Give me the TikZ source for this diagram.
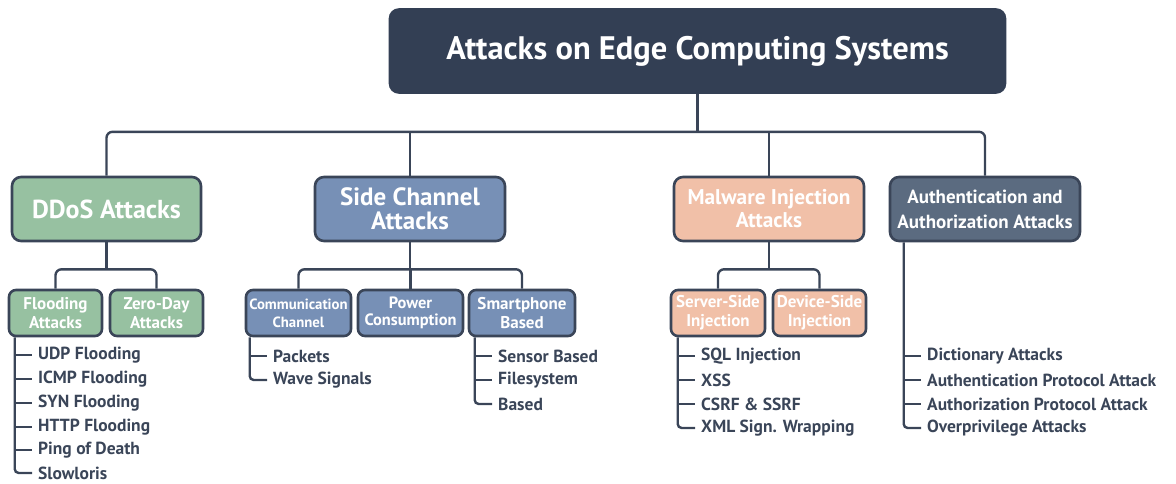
\documentclass[tikz,border=0pt]{standalone}
\usepackage{fontspec}
\setmainfont{PT Sans}
\definecolor{navy}{HTML}{333F54}
\definecolor{linec}{HTML}{3A4558}
\definecolor{greenb}{HTML}{97C1A1}
\definecolor{blueb}{HTML}{7790B6}
\definecolor{peachb}{HTML}{F1C0A8}
\definecolor{slateb}{HTML}{5B6B80}
\newcommand{\fs}[2]{\fontsize{#1}{#2}\selectfont\bfseries}
\tikzset{
  box/.style={draw=linec, line width=2.6pt, rounded corners=9pt, text=white, align=center, inner sep=0pt},
  conn/.style={draw=linec, line width=2.4pt, rounded corners=6pt},
  item/.style={anchor=west, inner xsep=6pt, inner ysep=0pt, text=linec, font=\fs{17.5}{19}},
  sub/.style={box, minimum height=46pt, rounded corners=7pt}
}
\begin{document}
\begin{tikzpicture}[x=1pt,y=-1pt]
\useasboundingbox (0,0) rectangle (1176,483);
\node[box, fill=navy, draw=navy, minimum width=615pt, minimum height=83pt, font=\fs{32.5}{34}] (root) at (697.5,51) {Attacks on Edge Computing Systems};
\node[box, fill=greenb, minimum width=189pt, minimum height=64pt, font=\fs{26}{26}] (ddos) at (106.5,209) {DDoS Attacks};
\node[box, fill=blueb, minimum width=190pt, minimum height=64pt, font=\fs{25}{24}] (side) at (410,209) {Side Channel\\Attacks};
\node[box, fill=peachb, minimum width=190pt, minimum height=64pt, font=\fs{21.3}{23}] (mal) at (769,209) {Malware Injection\\Attacks};
\node[box, fill=slateb, minimum width=190pt, minimum height=64pt, font=\fs{19}{25}] (auth) at (985,209) {Authentication and\\Authorization Attacks};
% level 1 connectors
\draw[conn] (root.south) -- ++(0,38) coordinate (bar);
\draw[conn] (ddos.north) |- (bar) -| (auth.north);
\draw[conn] (side.north) -- (side.north |- bar);
\draw[conn] (mal.north) -- (mal.north |- bar);
% DDoS subs
\node[sub, fill=greenb, minimum width=93pt, font=\fs{17}{19}] (flood) at (55.5,313) {Flooding\\Attacks};
\node[sub, fill=greenb, minimum width=93pt, font=\fs{17}{19}] (zero) at (156.5,313) {Zero-Day\\Attacks};
\draw[conn] (ddos.south) -- ++(0,27) coordinate (b1);
\draw[conn] (flood.north) |- (b1) -| (zero.north);
% Side subs
\node[sub, fill=blueb, minimum width=105pt, font=\fs{14.8}{18}] (comm) at (298.5,313) {Communication\\Channel};
\node[sub, fill=blueb, minimum width=105pt, font=\fs{16.4}{17}] (power) at (410.5,313) {Power\\Consumption};
\node[sub, fill=blueb, minimum width=106pt, font=\fs{17}{19}] (smart) at (522,313) {Smartphone\\Based};
\draw[conn] (side.south) -- ++(0,27) coordinate (b2);
\draw[conn] (comm.north) |- (b2) -| (smart.north);
\draw[conn] (power.north) -- (power.north |- b2);
% Malware subs
\node[sub, fill=peachb, minimum width=94pt, font=\fs{17}{19}] (server) at (718,313) {Server-Side\\Injection};
\node[sub, fill=peachb, minimum width=93pt, font=\fs{17}{19}] (device) at (819.5,313) {Device-Side\\Injection};
\draw[conn] (mal.south) -- ++(0,27) coordinate (b3);
\draw[conn] (server.north) |- (b3) -| (device.north);
% Lists
\node[item] (f1) at (32,355) {UDP Flooding};
\node[item] (f2) at (32,379) {ICMP Flooding};
\node[item] (f3) at (32,403) {SYN Flooding};
\node[item] (f4) at (32,427) {HTTP Flooding};
\node[item] (f5) at (32,450) {Ping of Death};
\node[item] (f6) at (32,473) {Slowloris};
\coordinate (fs) at ([xshift=7pt]flood.south west);
\draw[conn, rounded corners=4pt] (fs) |- (f6.west);
\foreach \i in {1,...,5} \draw[conn] (fs |- f\i.west) -- (f\i.west);

\node[item] (c1) at (267,356) {Packets};
\node[item] (c2) at (267,380) {Wave Signals};
\coordinate (cs) at ([xshift=5pt]comm.south west);
\draw[conn, rounded corners=4pt] (cs) |- (c2.west);
\draw[conn] (cs |- c1.west) -- (c1.west);

\node[item] (s1) at (492,356) {Sensor Based};
\node[item] (s2) at (492,380) {Filesystem};
\node[item] (s3) at (492,404) {Based};
\coordinate (ss) at ([xshift=7pt]smart.south west);
\draw[conn, rounded corners=4pt] (ss) |- (s3.west);
\foreach \i in {1,2} \draw[conn] (ss |- s\i.west) -- (s\i.west);

\node[item] (m1) at (695,356) {SQL Injection};
\node[item] (m2) at (695,380) {XSS};
\node[item] (m3) at (695,404) {CSRF \& SSRF};
\node[item] (m4) at (695,428) {XML Sign. Wrapping};
\coordinate (ms) at ([xshift=8pt]server.south west);
\draw[conn, rounded corners=4pt] (ms) |- (m4.west);
\foreach \i in {1,2,3} \draw[conn] (ms |- m\i.west) -- (m\i.west);

\node[item] (a1) at (921,356) {Dictionary Attacks};
\node[item] (a2) at (921,380) {Authentication Protocol Attack};
\node[item] (a3) at (921,404) {Authorization Protocol Attack};
\node[item] (a4) at (921,428) {Overprivilege Attacks};
\coordinate (as) at ([xshift=15pt]auth.south west);
\draw[conn, rounded corners=4pt] (as) |- (a4.west);
\foreach \i in {1,2,3} \draw[conn] (as |- a\i.west) -- (a\i.west);
\end{tikzpicture}
\end{document}
